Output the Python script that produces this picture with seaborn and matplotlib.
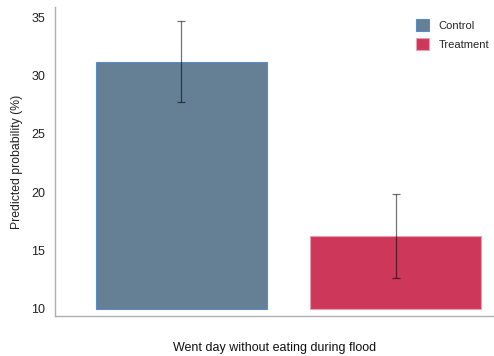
import numpy as np
import pandas as pd
import seaborn as sns
import matplotlib.pyplot as plt

# Predicted probabilities (%) with confidence interval bounds
groups = ["Control", "Treatment"]
predicted = [31.2, 16.25]
ci_low = [27.75, 12.65]
ci_high = [34.65, 19.85]
baseline = 10
yticks = [10, 15, 20, 25, 30, 35]
colors = ["#657f94", "#cd375a"]
edge_colors = ["#5a8ccc", "#e8a0b0"]

sns.set_theme(style="white")
plt.rcParams["font.family"] = ["Liberation Sans", "DejaVu Sans"]

df = pd.DataFrame({"group": groups, "value": predicted})
df["height"] = df["value"] - baseline

fig = plt.figure(figsize=(4.94, 3.56), dpi=100)
ax = fig.add_axes([0.111, 0.1124, 0.889, 0.8676])

sns.barplot(data=df, x="group", y="height", hue="group", palette=colors,
            bottom=baseline, width=0.8, legend=False, ax=ax, saturation=1)
for patch, ec in zip(ax.patches, edge_colors):
    patch.set_edgecolor(ec)
    patch.set_linewidth(0.8)

x = np.arange(len(groups))
yerr = [np.array(predicted) - np.array(ci_low), np.array(ci_high) - np.array(predicted)]
ax.errorbar(x, predicted, yerr=yerr, fmt="none", ecolor="black", alpha=0.55,
            elinewidth=0.9, capsize=3, capthick=0.9)

ax.set_ylim(9.4, 35.86)
ax.set_xlim(-0.591, 1.46)
ax.set_yticks(yticks)
ax.set_yticklabels([str(t) for t in yticks], fontsize=9, color="#222222")
ax.set_xticks([])
ax.tick_params(axis="y", length=0, pad=7)
ax.set_ylabel("Predicted probability (%)", fontsize=8.8, color="#222222", labelpad=6)
ax.set_xlabel("Went day without eating during flood", fontsize=9,
              color="#111111", labelpad=19)

for side in ["top", "right"]:
    ax.spines[side].set_visible(False)
for side in ["left", "bottom"]:
    ax.spines[side].set_color("#b0b0b0")
    ax.spines[side].set_linewidth(1.0)

handles = [plt.Rectangle((0, 0), 1, 1, facecolor=c, edgecolor=e, linewidth=0.8)
           for c, e in zip(colors, edge_colors)]
ax.legend(handles, groups, loc="upper left", bbox_to_anchor=(0.812, 0.975),
          frameon=False, fontsize=8, handlelength=1.15, handleheight=1.3,
          handletextpad=0.9, labelspacing=0.6, borderaxespad=0.0)

fig.savefig("out.png", dpi=100)
